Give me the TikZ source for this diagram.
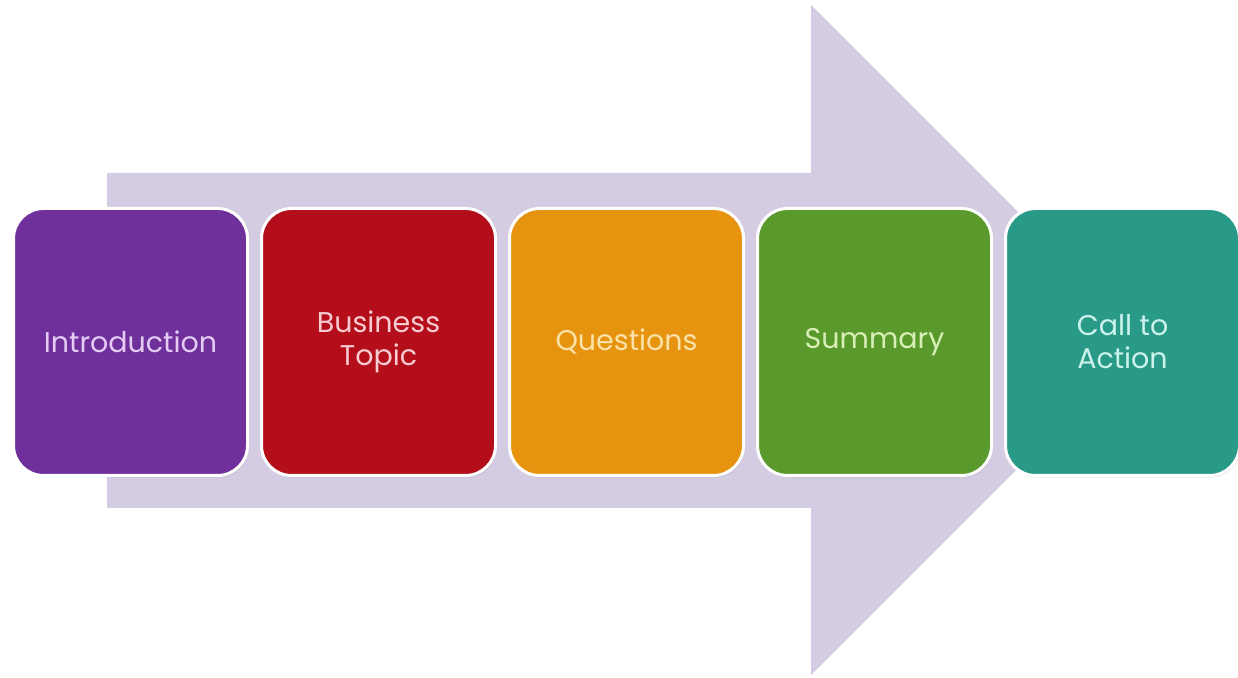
\documentclass[tikz,border=0pt]{standalone}
\usepackage{fontspec}
\setmainfont{Poppins}
\usetikzlibrary{positioning,shadows}
\definecolor{lavender}{RGB}{212,204,226}
\definecolor{introcol}{RGB}{112,48,156}
\definecolor{topiccol}{RGB}{180,14,26}
\definecolor{questcol}{RGB}{230,148,16}
\definecolor{sumcol}{RGB}{90,154,44}
\definecolor{actcol}{RGB}{42,154,136}
\tikzset{
  stage/.style={draw=white,line width=3pt,rounded corners=30pt,
    minimum width=234pt,minimum height=267pt,align=center,
    font=\fontsize{28.5}{33}\selectfont,
    drop shadow={shadow xshift=1pt,shadow yshift=-2pt,opacity=0.25}},
}

\begin{document}
\begin{tikzpicture}[x=1pt,y=1pt,node distance=11pt]
\useasboundingbox (0,0) rectangle (1238,677);
% Big arrow behind the stages
\fill[lavender] (107,169) -- (811,169) -- (811,2) -- (1146,337) -- (811,672)
  -- (811,504) -- (107,504) -- cycle;
% Stages from left to right
\node[stage,fill=introcol,text={rgb,255:red,228;green,204;blue,244}] (intro) at (130.5,335) {Introduction};
\node[stage,fill=topiccol,text={rgb,255:red,246;green,204;blue,210},right=of intro] (topic) {Business\\Topic};
\node[stage,fill=questcol,text={rgb,255:red,250;green,226;blue,168},right=of topic] (quest) {Questions};
\node[stage,fill=sumcol,text={rgb,255:red,216;green,240;blue,184},right=of quest] (summ) {Summary};
\node[stage,fill=actcol,text={rgb,255:red,204;green,242;blue,236},right=of summ] (act) {Call to\\Action};
\end{tikzpicture}
\end{document}
